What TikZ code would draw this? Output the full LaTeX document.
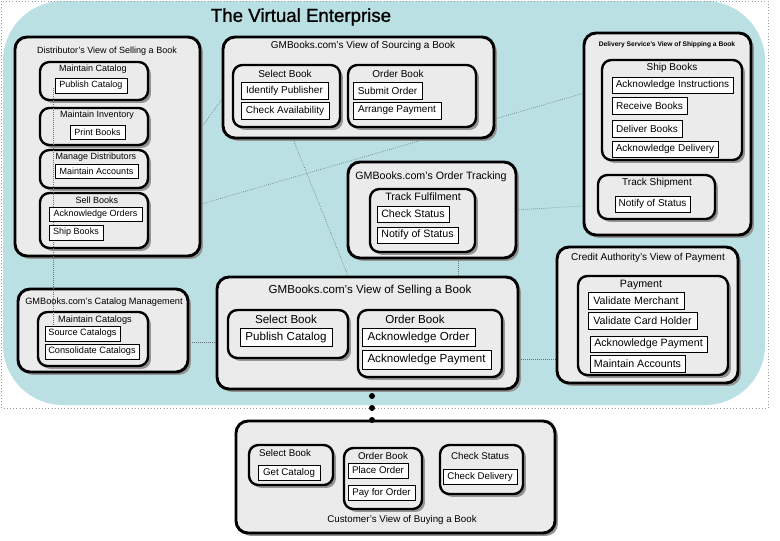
\documentclass[tikz,border=0pt]{standalone}
\usepackage{fontspec}
\setmainfont{Liberation Sans}
\newfontfamily\titlefont[FakeBold=1.2]{Liberation Sans}
\usetikzlibrary{shadows,calc}
\definecolor{tealbg}{RGB}{186,224,228}
\definecolor{boxgray}{RGB}{235,235,235}
\definecolor{linkgray}{RGB}{105,115,120}
\pgfdeclarelayer{back}
\pgfdeclarelayer{mid}
\pgfsetlayers{back,mid,main}
\begin{document}
\begin{tikzpicture}[x=0.75pt,y=-0.75pt,
  sz/.style 2 args={minimum width=#1*0.75pt, minimum height=#2*0.75pt},
  view/.style={draw=black, line width=2.2pt, fill=boxgray, rounded corners=9pt, inner sep=0pt, outer sep=0pt, anchor=north west,
    drop shadow={shadow xshift=2.2pt, shadow yshift=-2.2pt, fill=black!42, opacity=1}},
  act/.style={view, line width=1.8pt, rounded corners=7pt},
  task/.style={draw=black, line width=0.6pt, fill=white, inner sep=0pt, outer sep=0pt, anchor=north west},
  lbl/.style={inner sep=0pt},
  link/.style={draw=linkgray, densely dotted, line width=0.5pt},
  dotnode/.style={circle, fill=black, inner sep=0pt, minimum size=4.5pt},
  fa/.style={font=\fontsize{6.75}{8}\selectfont},
  fb/.style={font=\fontsize{7.5}{9}\selectfont},
  fc/.style={font=\fontsize{8}{9.5}\selectfont},
  fd/.style={font=\fontsize{8.7}{10}\selectfont},
  fe/.style={font=\fontsize{7.3}{9}\selectfont},
  ff/.style={font=\fontsize{6.9}{8}\selectfont},
]
\useasboundingbox (0,0) rectangle (780,540);
\begin{pgfonlayer}{back}
  \fill[tealbg, rounded corners=45pt] (3,1) rectangle (765,405);
  \draw[linkgray!70, dotted, line width=0.4pt] (1,1) rectangle (768,408);
\end{pgfonlayer}

\node[font=\titlefont\fontsize{14}{16}\selectfont] (title) at (301,17) {The Virtual Enterprise};

% Distributor
\node[view, sz={185}{219}] (dist) at (15,37) {};
\node[lbl, fa] (distT) at (107,51) {Distributor's View of Selling a Book};
\node[act, sz={108}{38}] (mcat) at (40,62) {};
\node[lbl, fa] (mcatT) at (93,69) {Maintain Catalog};
\node[act, sz={108}{37}] (minv) at (40,108) {};
\node[lbl, fa] (minvT) at (97,115) {Maintain Inventory};
\node[act, sz={108}{38}] (mdis) at (40,150) {};
\node[lbl, fa] (mdisT) at (96,157) {Manage Distributors};
\node[act, sz={108}{55}] (sell) at (40,193) {};
\node[lbl, fa] (sellT) at (97,200) {Sell Books};

% Sourcing
\node[view, sz={271}{101}] (src) at (223,37) {};
\node[lbl, fb] (srcT) at (363,46) {GMBooks.com's View of Sourcing a Book};
\node[act, sz={107}{62}] (ssel) at (233,65) {};
\node[lbl, fb] (sselT) at (285,74) {Select Book};
\node[task, sz={87}{17}, fb] (idp) at (241,82) {Identify Publisher};
\node[task, sz={88}{17}, fb] (chka) at (241,102) {Check Availability};
\node[act, sz={128}{62}] (sord) at (348,65) {};
\node[lbl, fb] (sordT) at (398,74) {Order Book};
\node[task, sz={69}{17}, fb] (subo) at (353,82) {Submit Order};
\node[task, sz={88}{17}, fb] (arrp) at (353,102) {Arrange Payment};

% Delivery
\node[view, sz={167}{202}] (dlv) at (584,33) {};
\node[lbl, font=\fontsize{5}{6}\selectfont\bfseries] (dlvT) at (667,45) {Delivery Service's View of Shipping a Book};
\node[act, sz={140}{100}] (shb) at (602,60) {};
\node[lbl, fb] (shbT) at (672,68) {Ship Books};
\node[task, sz={121}{16}, fb] (acki) at (612,77) {Acknowledge Instructions};
\node[task, sz={75}{17}, fb] (rcvb) at (612,97) {Receive Books};
\node[task, sz={70}{17}, fb] (dlvb) at (612,120) {Deliver Books};
\node[task, sz={106}{16}, fb] (ackd) at (612,141) {Acknowledge Delivery};
\node[act, sz={117}{44}] (trs) at (598,175) {};
\node[lbl, fb] (trsT) at (657,183) {Track Shipment};
\node[task, sz={75}{16}, fb] (nos2) at (615,196) {Notify of Status};

% Order tracking
\node[view, sz={168}{96}] (otr) at (348,162) {};
\node[lbl, fc] (otrT) at (431,177) {GMBooks.com's Order Tracking};
\node[act, sz={105}{63}] (tff) at (370,189) {};
\node[lbl, fc] (tffT) at (423,197) {Track Fulfilment};
\node[task, sz={72}{16}, fc] (chks) at (377,206) {Check Status};
\node[task, sz={81}{16}, fc] (nos1) at (377,227) {Notify of Status};

% Catalog management
\node[view, sz={170}{83}] (cmg) at (18,289) {};
\node[lbl, ff] (cmgT) at (104,302) {GMBooks.com's Catalog Management};
\node[act, sz={110}{54}] (mcs) at (38,312) {};
\node[lbl, ff] (mcsT) at (95,320) {Maintain Catalogs};

% Selling
\node[view, sz={301}{112}] (sv) at (217,277) {};
\node[lbl, fd] (svT) at (370,290) {GMBooks.com's View of Selling a Book};
\node[act, sz={120}{48}] (ssb) at (228,310) {};
\node[lbl, fd] (ssbT) at (286,319) {Select Book};
\node[task, sz={92}{18}, fd] (pcat2) at (240,328) {Publish Catalog};
\node[act, sz={144}{67}] (sob) at (358,310) {};
\node[lbl, fd] (sobT) at (415,319) {Order Book};
\node[task, sz={113}{18}, fd] (acko) at (362,328) {Acknowledge Order};
\node[task, sz={129}{19}, fd] (ackp) at (362,350) {Acknowledge Payment};

% Credit authority
\node[view, sz={181}{136}] (cra) at (557,247) {};
\node[lbl, fb] (craT) at (648,258) {Credit Authority's View of Payment};
\node[act, sz={150}{99}] (pay) at (578,276) {};
\node[lbl, fc] (payT) at (641,285) {Payment};
\node[task, sz={96}{17}, fc] (valm) at (588,292) {Validate Merchant};
\node[task, sz={109}{17}, fc] (valc) at (588,312) {Validate Card Holder};
\node[task, sz={117}{16}, fc] (ackp2) at (590,336) {Acknowledge Payment};
\node[task, sz={95}{17}, fc] (macc2) at (590,355) {Maintain Accounts};

% Customer
\node[view, sz={319}{112}] (cus) at (236,421) {};
\node[lbl, fe] (cusT) at (402,520) {Customer's View of Buying a Book};
\node[act, sz={84}{40}] (csb) at (249,445) {};
\node[lbl, fe] (csbT) at (285,453) {Select Book};
\node[task, sz={62}{15}, fe] (getc) at (258,465) {Get Catalog};
\node[act, sz={78}{61}] (cob) at (344,448) {};
\node[lbl, fe] (cobT) at (383,456) {Order Book};
\node[task, sz={60}{15}, fe] (plo) at (348,463) {Place Order};
\node[task, sz={67}{15}, fe] (pfo) at (348,485) {Pay for Order};
\node[act, sz={83}{49}] (ccs) at (440,445) {};
\node[lbl, fe] (ccsT) at (480,456) {Check Status};
\node[task, sz={74}{15}, fe] (chd) at (443,469) {Check Delivery};

% vertical link over the distributor boxes
\coordinate (vtop) at (53,88);
\coordinate (vbot) at (53,326);
\draw[link] (vtop) -- (vbot);

% task boxes drawn on top of that link
\node[task, sz={72}{15}, fa] (pcat) at (55,78) {Publish Catalog};
\node[task, sz={55}{14}, fa] (pbk) at (70,125) {Print Books};
\node[task, sz={83}{14}, fa] (macc) at (55,164) {Maintain Accounts};
\node[task, sz={93}{14}, fa] (ackos) at (49,207) {Acknowledge Orders};
\node[task, sz={54}{15}, fa] (shipb) at (49,225) {Ship Books};
\node[task, sz={75}{15}, ff] (srcc) at (45,326) {Source Catalogs};
\node[task, sz={94}{15}, ff] (conc) at (45,344) {Consolidate Catalogs};

% dots between selling view and customer view
\node[dotnode] (d1) at (372,396) {};
\node[dotnode] (d2) at (372,408) {};
\node[dotnode] (d3) at (372,420) {};

% connectors behind the boxes
\begin{pgfonlayer}{mid}
  \draw[link] ($(sell.north east)+(2,6)$) -- ($(src.west)+(0,10)$);
  \draw[link] (shipb.east) -- (acki.west);
  \draw[link] (chka.south) -- ($(acko.north west)+(7,0)$);
  \draw[link] (chks.east) -- (nos2.west);
  \draw[link] (nos1.south east) -- (nos1.south east |- acko.north);
  \draw[link] ($(mcs.east)+(0,3)$) -- ($(pcat2.west)+(0,5)$);
  \draw[link] (ackp.east) -- (ackp.east -| pay.west);
\end{pgfonlayer}
\end{tikzpicture}
\end{document}
